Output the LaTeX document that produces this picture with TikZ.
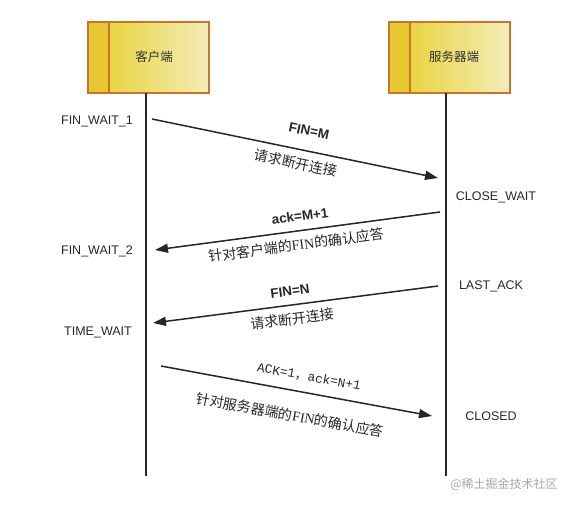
\documentclass[tikz,border=0pt]{standalone}
\usepackage{fontspec}
\setmainfont{Liberation Sans}
\newfontfamily\cjk{Noto Sans CJK SC}
\newfontfamily\cjkb[AutoFakeBold=2]{Noto Sans CJK SC}
\newfontfamily\serifb[AutoFakeBold=1.5]{Liberation Serif}
\newfontfamily\monof[AutoFakeBold=0.5]{Liberation Mono}
\usetikzlibrary{arrows.meta}
\definecolor{boxedge}{HTML}{C8742C}
\definecolor{boxleft}{HTML}{E8C832}
\definecolor{boxmain}{HTML}{E9D443}
\definecolor{boxlight}{HTML}{F4EDB8}
\tikzset{
  lifeline/.style={line width=1.5pt, black!85},
  msg/.style={line width=1.5pt, black!85, -{Triangle[length=13pt,width=9pt]}},
  state/.style={font=\fontsize{12.5}{14}\selectfont, text=black!85},
  bold lbl/.style={font=\fontsize{13.5}{15}\bfseries\selectfont, text=black!85},
  cn lbl/.style={font=\fontsize{14}{16}\cjkb\selectfont, text=black!85},
  boxtxt/.style={font=\fontsize{12.5}{14}\cjk\selectfont, text=black!80},
}
\begin{document}
\begin{tikzpicture}[x=1pt,y=-1pt]
\useasboundingbox (0,0) rectangle (573,505);
% boxes
\foreach \nm/\xa in {cbox/88, sbox/389}{
  \shade[left color=boxmain, right color=boxlight] (\xa+21,22) rectangle (\xa+121,93);
  \fill[boxleft] (\xa,22) rectangle (\xa+21,93);
  \draw[boxedge, line width=1.6pt] (\xa,22) rectangle (\xa+121,93);
  \draw[boxedge, line width=1.6pt] (\xa+21,22) -- (\xa+21,93);
}
\node[boxtxt] (ctxt) at (154,57) {客户端};
\node[boxtxt] (stxt) at (454,57) {服务器端};
\coordinate (ctop) at (146,93);
\coordinate (cbot) at (146,476);
\coordinate (stop) at (446,93);
\coordinate (sbot) at (446,476);
\draw[lifeline] (ctop) -- (cbot);
\draw[lifeline] (stop) -- (sbot);
% states
\node[state] (fw1) at (97,121) {FIN\_WAIT\_1};
\node[state] (fw2) at (97,251) {FIN\_WAIT\_2};
\node[state] (tw) at (98,332) {TIME\_WAIT};
\node[state] (cw) at (496,197) {CLOSE\_WAIT};
\node[state] (la) at (491,286) {LAST\_ACK};
\node[state] (cl) at (491,416) {CLOSED};
% messages
\coordinate (m1a) at (152,119);
\coordinate (m1b) at (438,178);
\draw[msg] (m1a) -- (m1b);
\node[bold lbl, rotate=-11.7] (l1a) at (309,131) {FIN=M};
\node[cn lbl, rotate=-11.7] (l1b) at (296,163) {请求断开连接};
\coordinate (m2a) at (440,212);
\coordinate (m2b) at (155,250);
\draw[msg] (m2a) -- (m2b);
\node[bold lbl, rotate=7.6] (l2a) at (300,216) {ack=M+1};
\node[cn lbl, rotate=7.6] (l2b) at (296,245) {针对客户端的{\serifb FIN}的确认应答};
\coordinate (m3a) at (438,286);
\coordinate (m3b) at (153,323);
\draw[msg] (m3a) -- (m3b);
\node[bold lbl, rotate=7.4] (l3a) at (290,291) {FIN=N};
\node[cn lbl, rotate=7.4] (l3b) at (292,319) {请求断开连接};
\coordinate (m4a) at (161,366);
\coordinate (m4b) at (432,416);
\draw[msg] (m4a) -- (m4b);
\node[font=\fontsize{12.8}{14}\monof\selectfont, text=black!85, rotate=-10.4] (l4a) at (309,377) {ACK=1{\cjk ，}ack=N+1};
\node[cn lbl, rotate=-10.4] (l4b) at (290,415) {针对服务器端的{\serifb FIN}的确认应答};
% watermark
\node[font=\fontsize{12}{14}\cjk\selectfont, text=black!35] (wm) at (504,484) {@稀土掘金技术社区};
\end{tikzpicture}
\end{document}
